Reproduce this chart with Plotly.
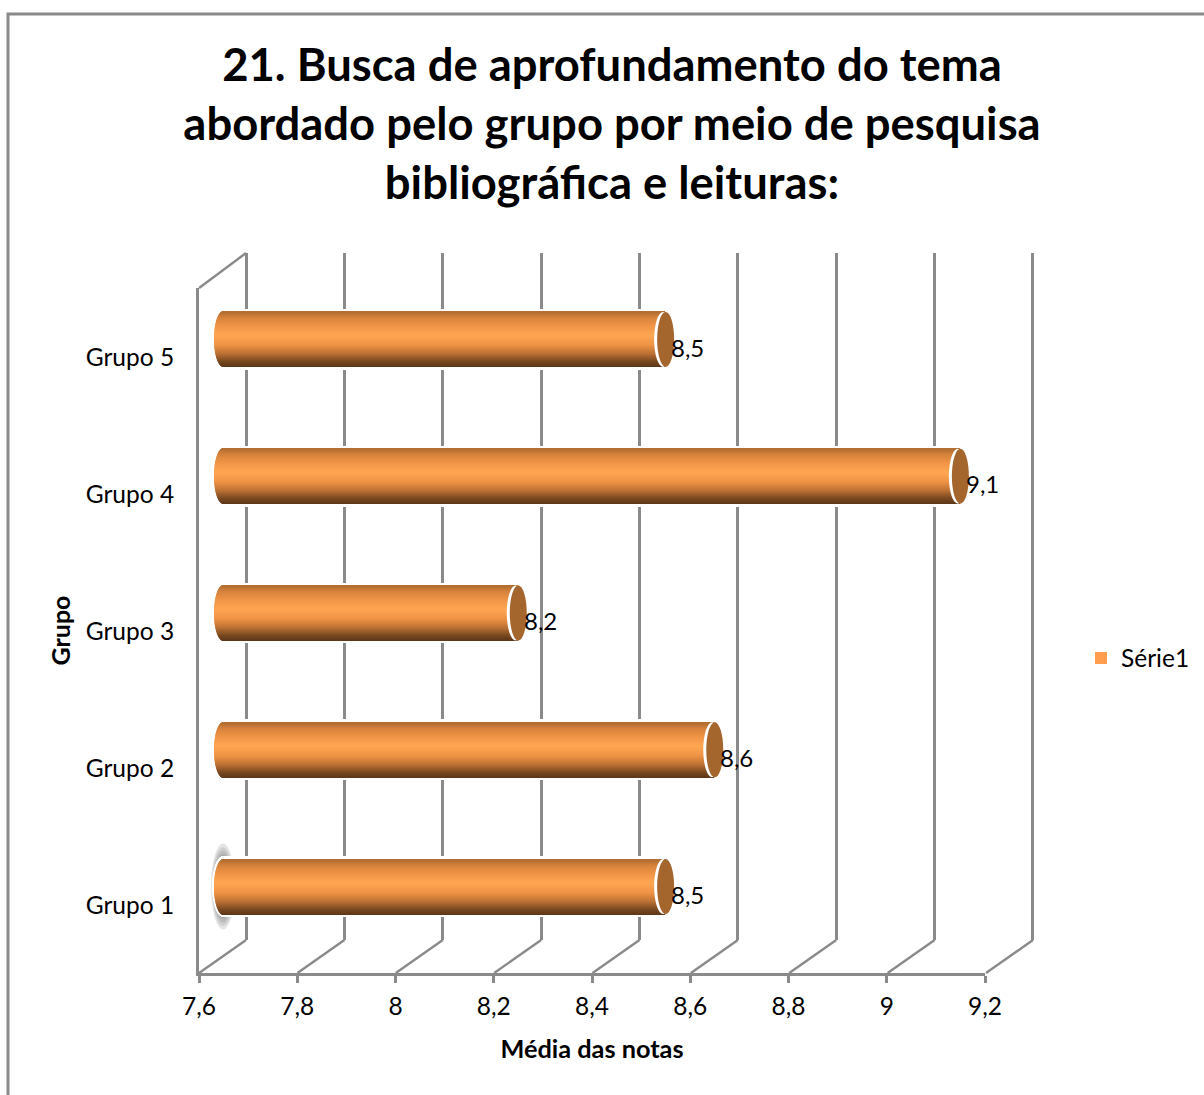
import math
import plotly.graph_objects as go

CATEGORIES = ["Grupo 1", "Grupo 2", "Grupo 3", "Grupo 4", "Grupo 5"]
VALUES = [8.5, 8.6, 8.2, 9.1, 8.5]
SERIES = "Série1"
TICK_VALUES = [7.6, 7.8, 8.0, 8.2, 8.4, 8.6, 8.8, 9.0, 9.2]
TICK_LABELS = ["7,6", "7,8", "8", "8,2", "8,4", "8,6", "8,8", "9", "9,2"]
TITLE = "21. Busca de aprofundamento do tema<br>abordado pelo grupo por meio de pesquisa<br>bibliográfica e leituras:"
X_TITLE = "Média das notas"
Y_TITLE = "Grupo"

W, H = 1204, 1095
FONT = "Lato"
GREY = "#8A8A8A"
LINE_W = 2.4
STRAIGHT_W = 3
XMIN, XMAX = TICK_VALUES[0], TICK_VALUES[-1]
PX_PER_UNIT = (985 - 199) / (XMAX - XMIN)
BAR_ROWS = 55
STEP = 136.8
CAP = 9

def px(p): return p / W
def py(p): return 1 - p / H

# gradient stops: (position 0..1 from top to bottom of the cylinder, rgb)
STOPS = [(0.0, (176, 108, 48)), (0.1, (214, 130, 60)), (0.25, (240, 148, 70)), (0.42, (255, 166, 82)),
         (0.6, (238, 146, 68)), (0.75, (190, 114, 52)), (0.9, (120, 72, 32)), (1.0, (92, 54, 24))]

def grad(t):
    for (a, ca), (b, cb) in zip(STOPS, STOPS[1:]):
        if t <= b:
            f = (t - a) / (b - a)
            return "rgb(%d,%d,%d)" % tuple(round(x + (y - x) * f) for x, y in zip(ca, cb))
    return "rgb(%d,%d,%d)" % STOPS[-1][1]

def slices(rows, half_cap, colour_fn):
    """One-pixel rows of a bar; each starts on the ellipse of the rounded left end."""
    ys, xs, bases, widths, offsets, colours = [], [], [], [], [], []
    for cat, val in zip(CATEGORIES, VALUES):
        for i in range(rows):
            mid = (i + 0.5 - rows / 2) / (rows / 2)
            bulge = half_cap * math.sqrt(max(0, 1 - mid * mid)) / PX_PER_UNIT
            ys.append(cat)
            bases.append(XMIN - bulge)
            xs.append(val - XMIN + bulge)
            widths.append(1 / STEP)
            offsets.append((i - rows / 2) / STEP)
            colours.append(colour_fn(1 - (i + 0.5) / rows))
    return dict(y=ys, x=xs, base=bases, width=widths, offset=offsets,
                marker=dict(color=colours, line=dict(width=0)))

on_bars = dict(orientation="h", xaxis="x3", yaxis="y3")
fig = go.Figure()
fig.add_trace(go.Bar(name="contorno", showlegend=False, hoverinfo="skip",
                     **slices(BAR_ROWS + 5, CAP + 2, lambda t: "white"), **on_bars))
fig.add_trace(go.Bar(name=SERIES, y=CATEGORIES, x=[v - XMIN for v in VALUES], base=XMIN, width=BAR_ROWS / STEP,
                     showlegend=True, marker=dict(color="#FF9E4F", line=dict(width=0)), **on_bars))
fig.add_trace(go.Bar(name="cilindro", showlegend=False, hoverinfo="skip",
                     **slices(BAR_ROWS, CAP, grad), **on_bars))
# invisible traces so that the back-wall and front axes are built
fig.add_trace(go.Scatter(x=[XMIN], y=[0], xaxis="x2", yaxis="y2", mode="markers", opacity=0,
                         showlegend=False, hoverinfo="skip"))
fig.add_trace(go.Scatter(x=[XMIN], y=[CATEGORIES[0]], xaxis="x", yaxis="y", mode="markers", opacity=0,
                         showlegend=False, hoverinfo="skip"))

shapes = []
# outer chart frame
shapes.append(dict(type="rect", xref="paper", yref="paper", x0=px(8), x1=px(W + 20), y0=py(14), y1=py(H + 20),
                   line=dict(color=GREY, width=STRAIGHT_W), layer="below"))
# floor depth lines, measured back from the back-wall gridlines
for t in TICK_VALUES:
    shapes.append(dict(type="line", xref="x2", yref="paper", xsizemode="pixel", ysizemode="pixel",
                       xanchor=t, yanchor=py(973), x0=-47, x1=0, y0=0, y1=33,
                       line=dict(color=GREY, width=LINE_W), layer="below"))
# side wall top edge
shapes.append(dict(type="line", xref="x2", yref="paper", xsizemode="pixel", ysizemode="pixel",
                   xanchor=XMIN, yanchor=py(288), x0=-47, x1=0, y0=0, y1=35,
                   line=dict(color=GREY, width=LINE_W), layer="below"))
# halo behind the first bar
HALO_STEPS = 12
for i in range(HALO_STEPS):
    k = 1 - i / HALO_STEPS
    shapes.append(dict(type="circle", xref="x3", yref="y3", xsizemode="pixel", ysizemode="pixel",
                       xanchor=XMIN, yanchor=CATEGORIES[0], x0=-11 * k - 1, x1=11 * k + 1, y0=-43 * k, y1=43 * k,
                       fillcolor="rgba(70,70,70,0.14)", line=dict(width=0), layer="below"))
# end caps: a white crescent on the left, then the brown face
for cat, val in zip(CATEGORIES, VALUES):
    shapes.append(dict(type="circle", xref="x3", yref="y3", xsizemode="pixel", ysizemode="pixel",
                       xanchor=val, yanchor=cat, x0=-CAP - 2, x1=CAP - 2, y0=-BAR_ROWS / 2, y1=BAR_ROWS / 2,
                       fillcolor="white", line=dict(width=0)))
    shapes.append(dict(type="circle", xref="x3", yref="y3", xsizemode="pixel", ysizemode="pixel",
                       xanchor=val, yanchor=cat, x0=-CAP + 1, x1=CAP, y0=-BAR_ROWS / 2, y1=BAR_ROWS / 2,
                       fillcolor="#A5662E", line=dict(width=0)))

annotations = [dict(x=val, y=cat, xref="x3", yref="y3", text=str(val).replace(".", ","), showarrow=False,
                    xanchor="left", yanchor="middle", xshift=4, yshift=-7.6,
                    font=dict(family=FONT, size=24, color="black"))
               for cat, val in zip(CATEGORIES, VALUES)]

fig.update_layout(
    width=W, height=H, margin=dict(l=0, r=0, t=0, b=0, autoexpand=False),
    paper_bgcolor="white", plot_bgcolor="rgba(0,0,0,0)",
    barmode="overlay", shapes=shapes, annotations=annotations,
    font=dict(family=FONT, size=24, color="black"),
    title=dict(text=TITLE, x=612 / W, xanchor="center", y=py(81), yanchor="middle",
               font=dict(family=FONT, size=45.4, color="black", weight="bold")),
    legend=dict(x=px(1081), y=py(658), xanchor="left", yanchor="middle", bgcolor="rgba(0,0,0,0)",
                font=dict(family=FONT, size=24.5, color="black"), itemclick=False),
    xaxis=dict(domain=[px(199), px(985)], range=[XMIN, XMAX], anchor="y", tickmode="array",
               tickvals=TICK_VALUES, ticktext=TICK_LABELS, showgrid=False, zeroline=False,
               showline=True, linecolor=GREY, linewidth=STRAIGHT_W, ticks="outside", ticklen=7,
               tickwidth=STRAIGHT_W, tickcolor=GREY, tickfont=dict(family=FONT, size=24.5), ticklabelstandoff=3,
               title=dict(text=X_TITLE, standoff=21, font=dict(family=FONT, size=25.3, weight="bold"))),
    yaxis=dict(domain=[py(973), py(288)], range=[-0.5, 4.5], anchor="x", type="category",
               categoryorder="array", categoryarray=CATEGORIES, showgrid=False, zeroline=False,
               showline=True, linecolor=GREY, linewidth=STRAIGHT_W, ticks="", ticklabelstandoff=17,
               ticklabelshift=1, tickfont=dict(family=FONT, size=24.5),
               title=dict(text=Y_TITLE, standoff=8, font=dict(family=FONT, size=25, weight="bold"))),
    xaxis2=dict(domain=[px(190), px(1040)], range=[XMIN - 56 / PX_PER_UNIT, XMAX + 7 / PX_PER_UNIT], anchor="y2",
                tickmode="array", tickvals=TICK_VALUES, showticklabels=False, showgrid=True,
                gridcolor=GREY, gridwidth=STRAIGHT_W, zeroline=False, showline=False),
    yaxis2=dict(domain=[py(940), py(253)], range=[0, 1], anchor="x2", visible=False),
    xaxis3=dict(domain=[px(208), px(1012)], range=[XMIN - 15 / PX_PER_UNIT, XMAX + 3 / PX_PER_UNIT], anchor="y3",
                visible=False),
    yaxis3=dict(domain=[py(955), py(271)], range=[-0.5, 4.5], anchor="x3", type="category",
                categoryorder="array", categoryarray=CATEGORIES, visible=False),
)
fig.write_html("out.html", post_script="document.body.style.margin='0';", config=dict(displayModeBar=False))
